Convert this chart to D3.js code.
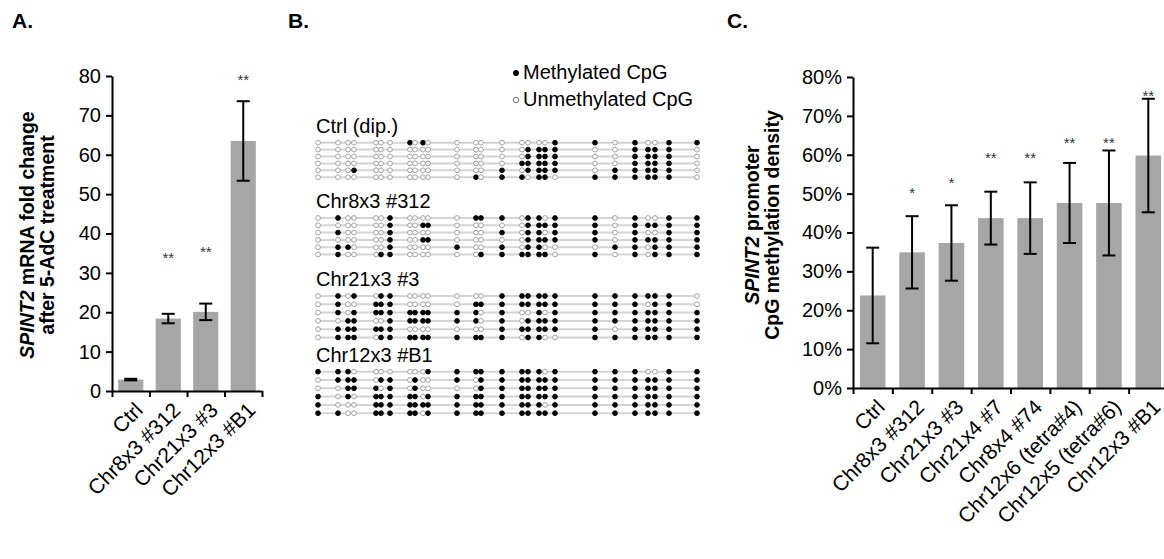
<!DOCTYPE html>
<html>
<head>
<meta charset="utf-8">
<script src="https://cdn.jsdelivr.net/npm/d3@7"></script>
<style>
body { margin: 0; background: #fff; }
text { font-family: "Liberation Sans", Arial, sans-serif; }
</style>
</head>
<body>
<svg id="fig" width="1164" height="559"></svg>
<script>
// ---- panel A: fold change after 5-AdC
var catsA = ['Ctrl', 'Chr8x3 #312', 'Chr21x3 #3', 'Chr12x3 #B1'];
var foldA = [2.9, 18.4, 20.1, 63.5];
var errA = [0.2, 1.2, 2.1, 10.1];
var sigA = ['', '**', '**', '**'];
var sigAtA = [0, 34.5, 36, 79.7];
var ticksA = [0, 10, 20, 30, 40, 50, 60, 70, 80];

// ---- panel C: promoter methylation density (%)
var catsC = ['Ctrl', 'Chr8x3 #312', 'Chr21x3 #3', 'Chr21x4 #7', 'Chr8x4 #74',
	'Chr12x6 (tetra#4)', 'Chr12x5 (tetra#6)', 'Chr12x3 #B1'];
var methC = [23.8, 34.9, 37.3, 43.7, 43.7, 47.6, 47.6, 59.8];
var errC = [12.3, 9.3, 9.7, 6.8, 9.2, 10.3, 13.5, 14.6];
var sigC = ['', '*', '*', '**', '**', '**', '**', '**'];
var sigAtC = [0, 51, 53.6, 60, 60, 63.9, 63.9, 76];
var ticksC = [0, 10, 20, 30, 40, 50, 60, 70, 80];

// ---- panel B: bisulfite clones, 1 = methylated CpG
var clones = ['Ctrl (dip.)', 'Chr8x3 #312', 'Chr21x3 #3', 'Chr12x3 #B1'];
var cpgSites = [0, 20, 30, 36, 58, 63, 72, 92, 97, 105, 110, 139, 158, 163,
	184, 204, 210, 221, 227, 237, 277, 297, 317, 330, 337, 351, 379];
var ctrlRows = [
	'000000010100000000011010011',
	'000000000000000011110011110',
	'000000000000000011110011110',
	'000000000000000111110011110',
	'000100000000001011110111110',
	'000000000000101101101111110'];
var chr8Rows = [
	'010000100000111011011010011',
	'000000100110000011111011111',
	'010000100000001011011010011',
	'000000100110000011111011111',
	'011000100001001011000110111',
	'010001100000011111101010111'];
var chr21Rows = [
	'010101100000001111111111110',
	'010011100000111111111110110',
	'010111111111101001011111111',
	'001100111111101011111111111',
	'011111100000001111111011111',
	'011101111111111011001111111'];
var chr12Rows = [
	'111000000011111111011110011',
	'011101101001011111111111111',
	'001110101000011111111111111',
	'101011111011111111111111111',
	'100011111111111111011111111',
	'110011111011111111111111111'];
var cloneRows = [ctrlRows, chr8Rows, chr21Rows, chr12Rows];

var svg = d3.select('#fig');
var grey = '#a6a6a6';

function panelLetter(x, s) {
	svg.append('text')
		.attr('x', x).attr('y', 28)
		.style('font-size', '21px').style('font-weight', 'bold')
		.text(s);
}
panelLetter(12, 'A.');
panelLetter(288, 'B.');
panelLetter(727, 'C.');

// shared bar chart builder
function barChart(o) {
	var g = svg.append('g');
	var x = d3.scaleBand().domain(o.cats).range([o.x0, o.x1])
		.paddingInner(o.pad).paddingOuter(o.pad / 2);
	var y = d3.scaleLinear().domain([0, 80]).range([o.y0, o.y1]);
	var bnd = d3.scaleLinear().domain([0, o.cats.length]).range([o.x0, o.x1]);

	g.selectAll('rect.bar')
		.data(o.vals)
		.enter()
		.append('rect')
			.attr('x', function(d, i) { return x(o.cats[i]); })
			.attr('width', x.bandwidth())
			.attr('y', function(d) { return y(d); })
			.attr('height', function(d) { return y(0) - y(d); })
			.attr('fill', grey);

	var cap = 6.5;
	var eb = g.selectAll('g.err')
		.data(o.vals)
		.enter()
		.append('g')
			.attr('stroke', '#000')
			.attr('stroke-width', 2);
	eb.append('line')
		.attr('x1', function(d, i) { return x(o.cats[i]) + x.bandwidth() / 2; })
		.attr('x2', function(d, i) { return x(o.cats[i]) + x.bandwidth() / 2; })
		.attr('y1', function(d, i) { return y(d - o.errs[i]); })
		.attr('y2', function(d, i) { return y(d + o.errs[i]); });
	[-1, 1].forEach(function(s) {
		eb.append('line')
			.attr('x1', function(d, i) { return x(o.cats[i]) + x.bandwidth() / 2 - cap; })
			.attr('x2', function(d, i) { return x(o.cats[i]) + x.bandwidth() / 2 + cap; })
			.attr('y1', function(d, i) { return y(d + s * o.errs[i]); })
			.attr('y2', function(d, i) { return y(d + s * o.errs[i]); });
	});

	g.selectAll('text.sig')
		.data(o.sig)
		.enter()
		.append('text')
			.attr('x', function(d, i) { return x(o.cats[i]) + x.bandwidth() / 2; })
			.attr('y', function(d, i) { return y(o.sigAt[i]) + 8; })
			.attr('text-anchor', 'middle')
			.style('font-size', '15px')
			.attr('fill', '#333')
			.text(function(d) { return d; });

	var ya = g.append('g')
		.attr('transform', 'translate(' + o.x0 + ',0)')
		.call(d3.axisLeft(y).tickValues(o.ticks).tickSize(6).tickSizeOuter(0)
			.tickFormat(o.fmt));
	var xa = g.append('g')
		.attr('transform', 'translate(0,' + o.y0 + ')')
		.call(d3.axisBottom(bnd).tickValues(d3.range(o.cats.length + 1))
			.tickSize(6).tickSizeOuter(0).tickFormat(''));
	[ya, xa].forEach(function(a) {
		a.select('.domain').attr('stroke', '#000').attr('stroke-width', 2);
		a.selectAll('.tick line').attr('stroke', '#000').attr('stroke-width', 2);
	});
	ya.selectAll('.tick text')
		.attr('x', -11)
		.attr('fill', '#000')
		.style('font-size', '20px')
		.style('font-family', '"Liberation Sans", Arial, sans-serif');

	g.selectAll('text.cat')
		.data(o.cats)
		.enter()
		.append('text')
			.attr('transform', function(d) {
				return 'translate(' + (x(d) + x.bandwidth() / 2 + 3) + ',' + (o.y0 + 10) + ') rotate(-45)';
			})
			.attr('text-anchor', 'end')
			.attr('dy', '0.7em')
			.style('font-size', '21px')
			.text(function(d) { return d; });

	var t = g.append('text')
		.attr('transform', 'translate(' + o.tx + ',' + o.ty + ') rotate(-90)')
		.attr('text-anchor', 'middle')
		.style('font-size', '19.5px')
		.style('font-weight', 'bold');
	o.title.forEach(function(line, k) {
		var ts = t.append('tspan').attr('x', 0).attr('dy', k ? '1.05em' : 0);
		line.forEach(function(part) {
			ts.append('tspan')
				.style('font-style', part[1] ? 'italic' : 'normal')
				.text(part[0]);
		});
	});
}

barChart({
	cats: catsA, vals: foldA, errs: errA, sig: sigA, sigAt: sigAtA, ticks: ticksA,
	fmt: function(d) { return d; },
	x0: 112, x1: 262, y0: 391, y1: 76, pad: 0.33,
	tx: 34, ty: 235,
	title: [[['SPINT2', true], [' mRNA fold change', false]],
		[['after 5-AdC treatment', false]]]
});

barChart({
	cats: catsC, vals: methC, errs: errC, sig: sigC, sigAt: sigAtC, ticks: ticksC,
	fmt: function(d) { return d + '%'; },
	x0: 853, x1: 1168, y0: 388, y1: 77, pad: 0.35,
	tx: 759, ty: 225,
	title: [[['SPINT2', true], [' promoter', false]],
		[['CpG methylation density', false]]]
});

// ---- panel B: lollipop methylation map
var gB = svg.append('g');
var cx = d3.scaleLinear().domain([0, d3.max(cpgSites)]).range([318, 697]);
var groupTop = [142.7, 218, 296, 371.7];
var rowStep = [6.9, 7.3, 8.3, 8.3];
var r = 2.4;

clones.forEach(function(name, gi) {
	gB.append('text')
		.attr('x', 316)
		.attr('y', groupTop[gi] - 10)
		.style('font-size', '20px')
		.text(name);

	var rows = gB.selectAll('g.row' + gi)
		.data(cloneRows[gi])
		.enter()
		.append('g')
			.attr('transform', function(d, j) {
				return 'translate(0,' + (groupTop[gi] + j * rowStep[gi]) + ')';
			});
	rows.append('line')
		.attr('x1', cx(0)).attr('x2', cx(d3.max(cpgSites)))
		.attr('stroke', '#d4d4d4')
		.attr('stroke-width', 2);
	rows.selectAll('circle')
		.data(function(d) { return d.split('').map(Number); })
		.enter()
		.append('circle')
			.attr('cx', function(d, k) { return cx(cpgSites[k]); })
			.attr('r', r)
			.attr('fill', function(d) { return d ? '#000' : '#fff'; })
			.attr('stroke', function(d) { return d ? '#000' : '#999'; })
			.attr('stroke-width', 0.9);
});

// legend
var legendItems = [['Methylated CpG', 1], ['Unmethylated CpG', 0]];
var lg = gB.selectAll('g.leg')
	.data(legendItems)
	.enter()
	.append('g')
		.attr('transform', function(d, i) { return 'translate(516,' + (79 + i * 27) + ')'; });
lg.append('circle')
	.attr('cy', -6)
	.attr('r', function(d) { return d[1] ? 2.6 : 2.8; })
	.attr('fill', function(d) { return d[1] ? '#000' : '#fff'; })
	.attr('stroke', function(d) { return d[1] ? '#000' : '#777'; });
lg.append('text')
	.attr('x', 7)
	.style('font-size', '20px')
	.text(function(d) { return d[0]; });
</script>
</body>
</html>
